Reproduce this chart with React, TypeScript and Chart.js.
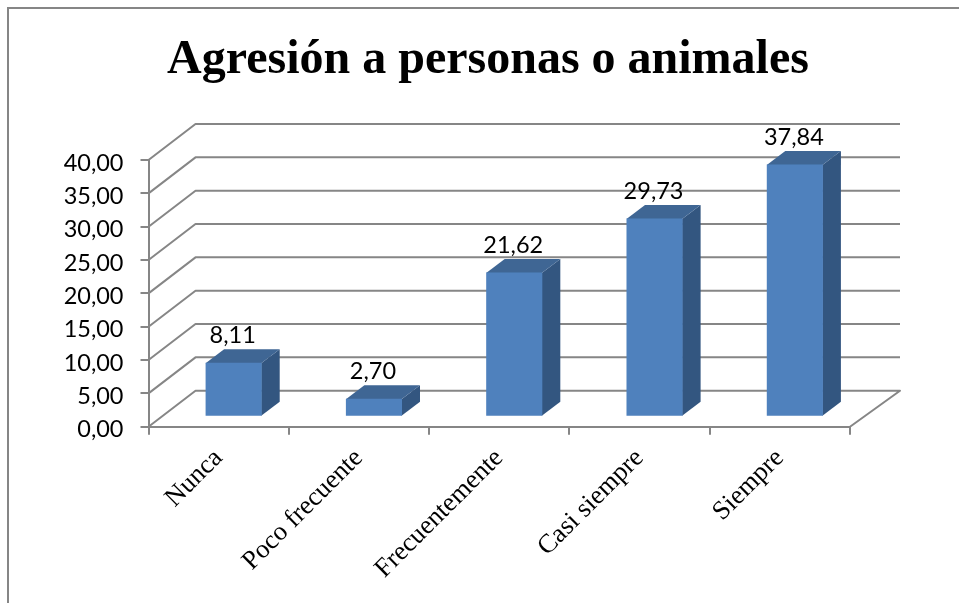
import { useEffect, useRef } from "react";
import { Chart, registerables } from "chart.js";

Chart.register(...registerables);

const titleText = "Agresión a personas o animales";
const categories = ["Nunca", "Poco frecuente", "Frecuentemente", "Casi siempre", "Siempre"];
const values = [8.11, 2.7, 21.62, 29.73, 37.84];

const GRID = "#868686";
const FRONT = "#4F81BD";
const TOP = "#3F6694";
const SIDE = "#335680";
const NUM_FONT = "Lato";
const SERIF = "'Liberation Serif'";

const WALL_DX = 47;
const WALL_DY = -36;
const BAR_DX = 15;
const BAR_DY = -10;
const DEPTH_DX = 18.5;
const DEPTH_DY = -14;

const fmt = (v: number) => v.toFixed(2).replace(".", ",");

const threeD = {
  id: "threeD",
  afterLayout(chart: any) {
    chart.titleBlock.left = 17;
    chart.titleBlock.right = 959;
  },
  beforeDraw(chart: any) {
    const { ctx, width, height } = chart;
    ctx.save();
    ctx.strokeStyle = GRID;
    ctx.lineWidth = 2;
    ctx.beginPath();
    ctx.moveTo(8, height);
    ctx.lineTo(8, 8);
    ctx.lineTo(width, 8);
    ctx.stroke();
    ctx.restore();
  },
  beforeDatasetsDraw(chart: any) {
    const { ctx, chartArea, scales } = chart;
    ctx.save();
    ctx.strokeStyle = GRID;
    ctx.lineWidth = 2;
    ctx.lineJoin = "round";
    for (const t of scales.y.ticks) {
      const y = scales.y.getPixelForValue(t.value);
      ctx.beginPath();
      ctx.moveTo(chartArea.left, y);
      ctx.lineTo(chartArea.left + WALL_DX, y + WALL_DY);
      ctx.lineTo(chartArea.right + WALL_DX + 3, y + WALL_DY);
      if (t.value === 0) ctx.lineTo(chartArea.right, y);
      ctx.stroke();
    }
    ctx.restore();
  },
  beforeDatasetDraw(chart: any, args: any) {
    const { ctx } = chart;
    const meta = chart.getDatasetMeta(args.index);
    for (const bar of meta.data) {
      const { x, y, base, width } = bar.getProps(["x", "y", "base", "width"], true);
      const r = x + width / 2 + BAR_DX - 0.5;
      const l = x - width / 2 + BAR_DX;
      const t = y + BAR_DY + 0.5;
      const b = base + BAR_DY;
      ctx.save();
      ctx.fillStyle = SIDE;
      ctx.beginPath();
      ctx.moveTo(r, t);
      ctx.lineTo(r + DEPTH_DX, t + DEPTH_DY);
      ctx.lineTo(r + DEPTH_DX, b + DEPTH_DY);
      ctx.lineTo(r, b);
      ctx.closePath();
      ctx.fill();
      ctx.fillStyle = TOP;
      ctx.beginPath();
      ctx.moveTo(l, t);
      ctx.lineTo(l + DEPTH_DX, t + DEPTH_DY);
      ctx.lineTo(r + DEPTH_DX, t + DEPTH_DY);
      ctx.lineTo(r, t);
      ctx.closePath();
      ctx.fill();
      ctx.restore();
    }
    ctx.save();
    ctx.translate(BAR_DX, BAR_DY);
  },
  afterDatasetDraw(chart: any, args: any) {
    const { ctx } = chart;
    ctx.restore();
    const meta = chart.getDatasetMeta(args.index);
    ctx.save();
    ctx.fillStyle = "#000";
    ctx.font = `23.5px ${NUM_FONT}`;
    ctx.textAlign = "center";
    ctx.textBaseline = "middle";
    meta.data.forEach((bar: any, i: number) => {
      const { x, y } = bar.getProps(["x", "y"], true);
      ctx.fillText(fmt(values[i]), x + BAR_DX - 1, y + BAR_DY - 27);
    });
    ctx.restore();
  },
};

export default function App() {
  const ref = useRef<HTMLCanvasElement>(null);
  useEffect(() => {
    const chart = new Chart(ref.current as HTMLCanvasElement, {
      type: "bar",
      data: {
        labels: categories,
        datasets: [
          {
            data: values,
            backgroundColor: FRONT,
            borderWidth: 0,
            categoryPercentage: 1,
            barPercentage: 0.4,
          },
        ],
      },
      options: {
        responsive: false,
        animation: false,
        layout: { padding: { left: 0, right: 109, top: 0, bottom: 0 } },
        plugins: {
          legend: { display: false },
          tooltip: { enabled: false },
          title: {
            display: true,
            text: titleText,
            color: "#000",
            font: { family: SERIF, size: 48, weight: "bold", lineHeight: "56px" },
            padding: { top: 33, bottom: 71 },
          },
        },
        scales: {
          x: {
            afterFit: (s: any) => {
              s.height = 176.3;
            },
            border: { color: GRID, width: 2 },
            grid: { color: GRID, lineWidth: 2, drawOnChartArea: false, tickLength: 8 },
            ticks: {
              color: "#000",
              font: { family: SERIF, size: 26.5 },
              minRotation: 45,
              maxRotation: 45,
              padding: 8,
            },
          },
          y: {
            min: 0,
            max: 40,
            afterFit: (s: any) => {
              s.width = 148.5;
            },
            border: { color: GRID, width: 2 },
            grid: { color: GRID, lineWidth: 2, drawOnChartArea: false, tickLength: 8 },
            ticks: {
              stepSize: 5,
              color: "#000",
              font: { family: NUM_FONT, size: 23.5, lineHeight: "6px" },
              padding: 17,
              callback: (v: any) => ["", fmt(Number(v))],
            },
          },
        },
      },
      plugins: [threeD],
    });
    return () => chart.destroy();
  }, []);
  return (
    <canvas
      ref={ref}
      width={959}
      height={603}
      style={{ position: "fixed", left: 0, top: 0, width: 959, height: 603, background: "#fff" }}
    />
  );
}
